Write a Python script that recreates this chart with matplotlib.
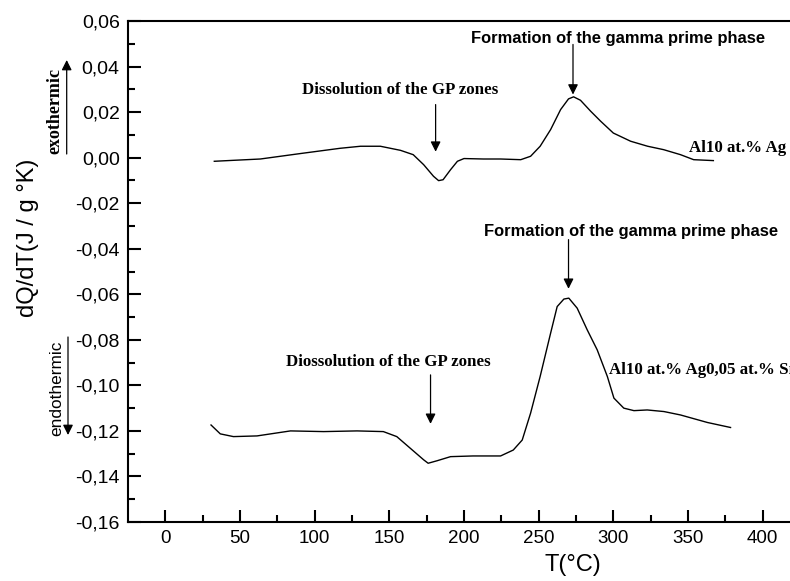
import matplotlib
matplotlib.use("Agg")
import matplotlib.pyplot as plt
from matplotlib.ticker import MultipleLocator, FixedLocator, FuncFormatter

# Al10 at.% Ag (upper curve)
t_ag = [32.8, 45.0, 63.6, 90.5, 117.0, 130.7, 144.0, 157.5, 166.0, 173.0, 179.6, 183.0,
        186.0, 191.0, 195.6, 200.0, 213.0, 224.5, 238.0, 244.6, 251.0, 258.0, 264.7,
        270.0, 273.4, 278.0, 284.8, 291.5, 300.0, 311.6, 323.0, 333.7, 345.0, 353.8, 367.0]
v_ag = [-0.0016, -0.0012, -0.0006, 0.0018, 0.0041, 0.0050, 0.0050, 0.0032, 0.0013, -0.0031,
        -0.0082, -0.0101, -0.0097, -0.0053, -0.0016, -0.0004, -0.0006, -0.0006, -0.0009,
        0.0006, 0.0050, 0.0123, 0.0211, 0.0258, 0.0267, 0.0252, 0.0204, 0.0160, 0.0108,
        0.0072, 0.0050, 0.0035, 0.0013, -0.0009, -0.0013]

# Al10 at.% Ag0,05 at.% Sn (lower curve)
t_sn = [30.6, 36.8, 45.6, 61.4, 83.8, 106.0, 128.4, 146.0, 155.0, 164.0, 173.0, 176.0,
        182.0, 191.0, 206.0, 224.5, 233.0, 239.0, 244.6, 251.0, 258.0, 262.4, 266.9,
        270.2, 275.8, 282.5, 289.2, 296.0, 300.4, 307.0, 313.8, 322.7, 333.9, 345.0,
        363.0, 378.5]
v_sn = [-0.1174, -0.1213, -0.1225, -0.1222, -0.1200, -0.1203, -0.1200, -0.1203, -0.1225,
        -0.1276, -0.1327, -0.1342, -0.1331, -0.1313, -0.1310, -0.1310, -0.1284, -0.1240,
        -0.1122, -0.0961, -0.0771, -0.0654, -0.0621, -0.0617, -0.0661, -0.0756, -0.0844,
        -0.0961, -0.1056, -0.1100, -0.1111, -0.1108, -0.1115, -0.1130, -0.1163, -0.1185]

x_major = [0, 50, 100, 150, 200, 250, 300, 350, 400]

SANS = "Liberation Sans"
SERIF = "Liberation Serif"

fig = plt.figure(figsize=(7.9, 5.81), dpi=100)
# axes run past the right edge of the picture (the original is cropped)
ax = fig.add_axes([128 / 790, 59 / 581, 890 / 790, 501 / 581])

ax.plot(t_ag, v_ag, color="black", lw=1.0, solid_joinstyle="round")
ax.plot(t_sn, v_sn, color="black", lw=1.0, solid_joinstyle="round")

ax.set_xlim(-25, 571)
ax.set_ylim(-0.16, 0.06)
ax.xaxis.set_major_locator(FixedLocator(x_major))
ax.xaxis.set_minor_locator(FixedLocator([v + 25 for v in x_major]))
ax.yaxis.set_major_locator(MultipleLocator(0.02))
ax.yaxis.set_minor_locator(MultipleLocator(0.01))
ax.yaxis.set_major_formatter(FuncFormatter(lambda v, p: f"{v:.2f}".replace(".", ",").replace("-0,00", "0,00")))
ax.xaxis.set_major_formatter(FuncFormatter(lambda v, p: f"{v:.0f}"))

ax.tick_params(which="both", direction="in", width=1.5, top=False, right=False)
ax.tick_params(which="major", length=9, pad=6)
ax.tick_params(which="minor", length=5)
ax.tick_params(axis="x", labelsize=13.5)
ax.tick_params(axis="y", labelsize=14)
for lab in ax.get_xticklabels() + ax.get_yticklabels():
    lab.set_family(SANS)
for sp in ax.spines.values():
    sp.set_linewidth(1.5)

ax.set_xlabel("T(°C)", family=SANS, fontsize=17, labelpad=5)
ax.set_ylabel("dQ/dT(J / g °K)", family=SANS, fontsize=17)
ax.yaxis.set_label_coords(-0.1, 0.567)

arrow = dict(arrowstyle="-|>", color="black", lw=0.9, mutation_scale=15, shrinkA=0, shrinkB=0)

# upper curve notes
ax.text(303, 0.0523, "Formation of the gamma prime phase", family=SANS, weight="bold",
        fontsize=11.9, ha="center", va="center")
ax.annotate("", xy=(273, 0.0277), xytext=(273, 0.0497), arrowprops=arrow)
ax.text(157.5, 0.0299, "Dissolution of the GP zones", family=SERIF, weight="bold",
        fontsize=12.2, ha="center", va="center")
ax.annotate("", xy=(181, 0.0026), xytext=(181, 0.0233), arrowprops=arrow)
ax.text(351, 0.0044, "Al10 at.% Ag", family=SERIF, weight="bold", fontsize=12.2,
        ha="left", va="center")

# lower curve notes
ax.text(312, -0.0325, "Formation of the gamma prime phase", family=SANS, weight="bold",
        fontsize=11.9, ha="center", va="center")
ax.annotate("", xy=(270, -0.0576), xytext=(270, -0.036), arrowprops=arrow)
ax.text(149.4, -0.0897, "Diossolution of the GP zones", family=SERIF, weight="bold",
        fontsize=12.2, ha="center", va="center")
ax.annotate("", xy=(177.6, -0.1169), xytext=(177.6, -0.0954), arrowprops=arrow)
ax.text(297, -0.0932, "Al10 at.% Ag0,05 at.% Sn", family=SERIF, weight="bold", fontsize=12.2,
        ha="left", va="center")

# exo / endo markers beside the y axis
fig.text(55 / 790, 1 - 111 / 581, "exothermic", family=SERIF, weight="bold", fontsize=13,
         rotation=90, ha="center", va="center")
ax.annotate("", xy=(66.7 / 790, 1 - 60 / 581), xytext=(66.7 / 790, 1 - 154 / 581),
            xycoords="figure fraction", textcoords="figure fraction", arrowprops=arrow,
            annotation_clip=False)
fig.text(57 / 790, 1 - 388 / 581, "endothermic", family=SANS, fontsize=12.4,
         rotation=90, ha="center", va="center")
ax.annotate("", xy=(68 / 790, 1 - 435 / 581), xytext=(68 / 790, 1 - 337 / 581),
            xycoords="figure fraction", textcoords="figure fraction", arrowprops=arrow,
            annotation_clip=False)

fig.savefig("out.png", dpi=100)
